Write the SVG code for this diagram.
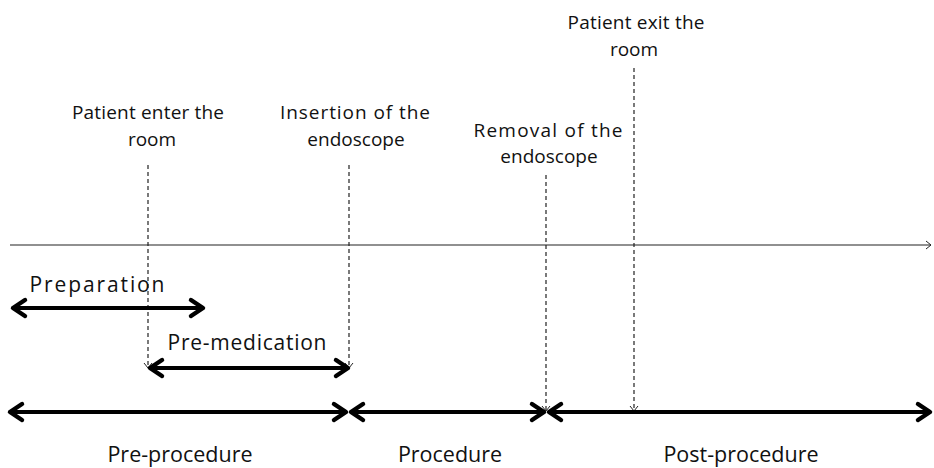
<svg xmlns="http://www.w3.org/2000/svg" width="934" height="468" viewBox="0 0 934 468">
<style>
text{font-family:"Open Sans","Liberation Sans",sans-serif;fill:#111;text-anchor:middle}
.s{font-size:19px}
.m{font-size:21px}
.b{font-size:21.5px}
.thick{stroke:#000;stroke-width:4;fill:none}
.dash{stroke:#222;stroke-width:1.2;stroke-dasharray:4 3;fill:none}
.axis{stroke:#222;stroke-width:1.2;fill:none}
</style>
<defs>
<marker id="th" viewBox="-16 -12 20 24" refX="0" refY="0" markerWidth="20" markerHeight="24" markerUnits="userSpaceOnUse" orient="auto-start-reverse">
<path d="M-12,-8 L0,0 L-12,8" fill="none" stroke="#000" stroke-width="4.5" stroke-linecap="round" stroke-linejoin="round"/>
</marker>
<marker id="tn" viewBox="-8 -6 10 12" refX="0" refY="0" markerWidth="10" markerHeight="12" markerUnits="userSpaceOnUse" orient="auto">
<path d="M-5,-4 L0,0 L-5,4" fill="none" stroke="#222" stroke-width="1"/>
</marker>
</defs>
<g id="connectors">
<line class="axis" x1="10" y1="245" x2="931" y2="245" marker-end="url(#tn)"/>
<line class="dash" x1="148" y1="165" x2="148" y2="368" marker-end="url(#tn)"/>
<line class="dash" x1="349" y1="165" x2="349" y2="368" marker-end="url(#tn)"/>
<line class="dash" x1="546" y1="175" x2="546" y2="411" marker-end="url(#tn)"/>
<line class="dash" x1="634" y1="68" x2="634" y2="411" marker-end="url(#tn)"/>
</g>
<g id="label-exit">
<text class="s" x="636" y="29" textLength="137" lengthAdjust="spacing">Patient exit the</text>
<text class="s" x="634" y="56">room</text>
</g>
<g id="label-enter">
<text class="s" x="148" y="119" textLength="152" lengthAdjust="spacing">Patient enter the</text>
<text class="s" x="152" y="146">room</text>
</g>
<g id="label-insertion">
<text class="s" x="355" y="119" textLength="150" lengthAdjust="spacing">Insertion of the</text>
<text class="s" x="356" y="146">endoscope</text>
</g>
<g id="label-removal">
<text class="s" x="548" y="137" textLength="149" lengthAdjust="spacing">Removal of the</text>
<text class="s" x="549" y="163">endoscope</text>
</g>
<g id="preparation">
<line class="thick" x1="13" y1="308" x2="203" y2="308" marker-start="url(#th)" marker-end="url(#th)"/>
<text class="m" x="97" y="292" textLength="135" lengthAdjust="spacing">Preparation</text>
</g>
<g id="pre-medication">
<line class="thick" x1="150" y1="368" x2="348" y2="368" marker-start="url(#th)" marker-end="url(#th)"/>
<text class="m" x="247" y="350" textLength="159" lengthAdjust="spacing">Pre-medication</text>
</g>
<g id="pre-procedure">
<line class="thick" x1="10" y1="412" x2="346" y2="412" marker-start="url(#th)" marker-end="url(#th)"/>
<text class="b" x="180" y="462">Pre-procedure</text>
</g>
<g id="procedure">
<line class="thick" x1="351" y1="412" x2="544" y2="412" marker-start="url(#th)" marker-end="url(#th)"/>
<text class="b" x="450" y="462">Procedure</text>
</g>
<g id="post-procedure">
<line class="thick" x1="549" y1="412" x2="930" y2="412" marker-start="url(#th)" marker-end="url(#th)"/>
<text class="b" x="741" y="462">Post-procedure</text>
</g>
</svg>
